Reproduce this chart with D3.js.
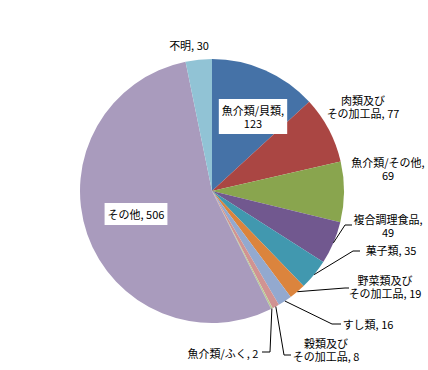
<!DOCTYPE html>
<html>
<head>
<meta charset="utf-8">
<script src="https://cdn.jsdelivr.net/npm/d3@7"></script>
<style>
  html, body { margin: 0; padding: 0; background: #fff; }
  svg { display: block; }
  text { font-family: "Noto Sans CJK JP", "Noto Sans", sans-serif; font-size: 11px; fill: #000; }
</style>
</head>
<body>
<svg id="chart" width="428" height="370"></svg>
<script>
// Food categories and case counts
const categories = [
  "魚介類/貝類", "肉類及びその加工品", "魚介類/その他", "複合調理食品", "菓子類",
  "野菜類及びその加工品", "すし類", "穀類及びその加工品", "魚介類/ふく", "その他", "不明"
];
const values = [123, 77, 69, 49, 35, 19, 16, 8, 2, 506, 30];

// Slice palette
const palette = [
  "#4572A7", "#AA4643", "#89A54E", "#71588F", "#4198AF", "#DB843D",
  "#93A9CF", "#D19392", "#B9CD96", "#A99BBD", "#91C3D5"
];

// Label placement: centre of first line, where to wrap, optional white box and leader path
const labelLayout = [
  { x: 253, y: 110, split: "value", box: true },
  { x: 363, y: 100, split: 4 },
  { x: 388, y: 162, split: "value" },
  { x: 388, y: 219, split: "value", leader: [[345, 225], [352, 225]] },
  { x: 391, y: 250, leader: [[353, 251], [360, 251]] },
  { x: 385, y: 280, split: 5, leader: [[345, 288], [349, 288]] },
  { x: 368, y: 324, leader: [[332, 324], [341, 324]] },
  { x: 326, y: 343, split: 4, leader: [[284, 355], [291, 355]] },
  { x: 223, y: 353, leader: [[270, 352], [262, 352]] },
  { x: 136, y: 214, box: true },
  { x: 189, y: 45 }
];

const cx = 212, cy = 191, radius = 132, lineHeight = 13;

const svg = d3.select("#chart");

const pie = d3.pie().sort(null).value(d => d.value);
const arcs = pie(categories.map((c, i) => ({ name: c, value: values[i], i })));

const arc = d3.arc().innerRadius(0).outerRadius(radius);
const edge = d3.arc().innerRadius(radius).outerRadius(radius);

const g = svg.append("g").attr("transform", `translate(${cx},${cy})`);

g.selectAll("path.slice")
  .data(arcs)
  .join("path")
  .attr("class", "slice")
  .attr("d", arc)
  .attr("fill", d => palette[d.data.i]);

// Leader lines from the slice rim to the label
const lineGen = d3.line();
arcs.forEach(d => {
  const L = labelLayout[d.data.i];
  if (!L.leader) return;
  const [sx, sy] = edge.centroid(d);
  const pts = [[cx + sx, cy + sy], ...L.leader];
  svg.append("path")
    .attr("d", lineGen(pts))
    .attr("fill", "none")
    .attr("stroke", "#000")
    .attr("stroke-width", 1);
});

// Data labels
function labelLines(d) {
  const L = labelLayout[d.data.i];
  const name = d.data.name, v = d.data.value;
  if (L.split === "value") return [name + ",", String(v)];
  if (typeof L.split === "number") return [name.slice(0, L.split), name.slice(L.split) + ", " + v];
  return [name + ", " + v];
}

arcs.forEach(d => {
  const L = labelLayout[d.data.i];
  const lines = labelLines(d);
  const lg = svg.append("g");
  const rect = L.box ? lg.append("rect").attr("fill", "#fff") : null;
  const t = lg.append("text")
    .attr("text-anchor", "middle");
  lines.forEach((s, k) => {
    t.append("tspan")
      .attr("x", L.x)
      .attr("y", L.y + k * lineHeight)
      .attr("dominant-baseline", "central")
      .text(s);
  });
  if (rect) {
    const bb = t.node().getBBox();
    rect.attr("x", bb.x - 3).attr("y", bb.y - 3)
      .attr("width", bb.width + 6).attr("height", bb.height + 6);
  }
});
</script>
</body>
</html>
